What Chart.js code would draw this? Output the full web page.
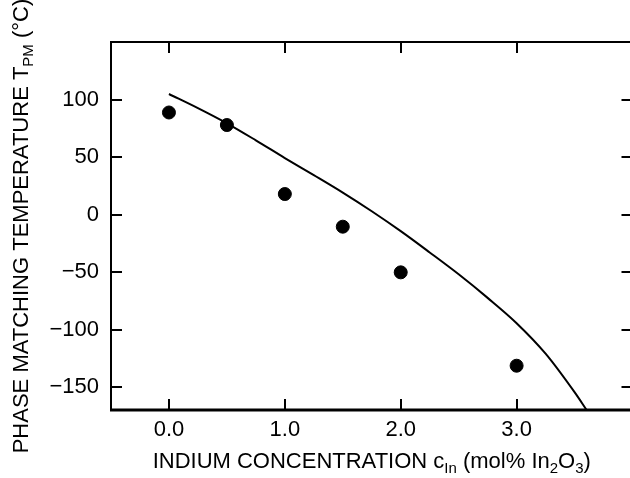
<!DOCTYPE html>
<html>
<head>
<meta charset="utf-8">
<script src="https://cdn.jsdelivr.net/npm/chart.js@4.4.1/dist/chart.umd.min.js"></script>
<style>
html, body { margin: 0; padding: 0; background: #fff; overflow: hidden; }
#wrap { width: 640px; height: 478px; }
</style>
</head>
<body>
<div id="wrap"><canvas id="tpmChart" width="640" height="478"></canvas></div>
<script>
// measured phase matching temperatures (dots)
const measuredConc = [0.0, 0.5, 1.0, 1.5, 2.0, 3.0];
const measuredTemp = [88.7, 77.8, 17.8, -10.6, -50.3, -131.5];

// calculated curve
const curveConc = [0.0, 0.25, 0.5, 0.75, 1.0, 1.25, 1.5, 1.75, 2.0, 2.25, 2.5, 2.75, 3.0, 3.25, 3.5, 3.604];
const curveTemp = [104.8, 92.5, 79.3, 64.5, 49.1, 34.2, 19.0, 2.8, -14.5, -33, -52, -72.5, -94.5, -121, -154.5, -170];

const xTicks = [0, 1, 2, 3];
const yTicks = [-150, -100, -50, 0, 50, 100];

const FONT = "'Liberation Sans', Arial, Helvetica, sans-serif";

// draws a run of text pieces, some of them subscripts
function drawRich(ctx, parts, x, y) {
    const widths = parts.map(p => {
        ctx.font = (p.sub ? 15 : 22) + 'px ' + FONT;
        return ctx.measureText(p.t).width;
    });
    const total = widths.reduce((a, b) => a + b, 0);
    let cx = x - total / 2;
    parts.forEach((p, i) => {
        ctx.font = (p.sub ? 15 : 22) + 'px ' + FONT;
        ctx.fillText(p.t, cx, y + (p.sub ? 5 : 0));
        cx += widths[i];
    });
}

const frameAndTitles = {
    id: 'frameAndTitles',
    afterDraw(chart) {
        const ctx = chart.ctx;
        const a = chart.chartArea;
        const xs = chart.scales.x;
        const ys = chart.scales.y;
        const len = 11;

        ctx.save();
        ctx.strokeStyle = '#000';
        ctx.lineWidth = 2;
        ctx.strokeRect(a.left, a.top, a.right - a.left, a.bottom - a.top);
        ctx.lineWidth = 3;
        ctx.beginPath();
        ctx.moveTo(a.left - 1, a.bottom);
        ctx.lineTo(a.right + 1, a.bottom);
        ctx.stroke();

        // inward ticks on all four sides
        ctx.lineWidth = 2;
        ctx.beginPath();
        xTicks.forEach(v => {
            const px = Math.round(xs.getPixelForValue(v));
            ctx.moveTo(px, a.bottom);
            ctx.lineTo(px, a.bottom - len);
            ctx.moveTo(px, a.top);
            ctx.lineTo(px, a.top + len);
        });
        yTicks.forEach(v => {
            const py = Math.round(ys.getPixelForValue(v));
            ctx.moveTo(a.left, py);
            ctx.lineTo(a.left + len, py);
            ctx.moveTo(a.right, py);
            ctx.lineTo(a.right - len, py);
        });
        ctx.stroke();

        // axis titles with subscripts
        ctx.fillStyle = '#000';
        ctx.textBaseline = 'alphabetic';
        ctx.textAlign = 'left';
        drawRich(ctx, [
            { t: 'INDIUM CONCENTRATION c' },
            { t: 'In', sub: true },
            { t: ' (mol% In' },
            { t: '2', sub: true },
            { t: 'O' },
            { t: '3', sub: true },
            { t: ')' }
        ], (a.left + a.right) / 2, 467.5);

        ctx.translate(27.5, 226);
        ctx.rotate(-Math.PI / 2);
        drawRich(ctx, [
            { t: 'PHASE MATCHING TEMPERATURE T' },
            { t: 'PM', sub: true },
            { t: ' (°C)' }
        ], 0, 0);
        ctx.restore();
    }
};

const ctx = document.getElementById('tpmChart').getContext('2d');

const chart = new Chart(ctx, {
    type: 'scatter',
    data: {
        datasets: [{
            type: 'line',
            label: 'Calculated',
            data: curveConc.map((c, i) => ({ x: c, y: curveTemp[i] })),
            borderColor: '#000',
            borderWidth: 2,
            pointRadius: 0,
            fill: false,
            cubicInterpolationMode: 'monotone'
        }, {
            label: 'Measured',
            data: measuredConc.map((c, i) => ({ x: c, y: measuredTemp[i] })),
            backgroundColor: '#000',
            borderColor: '#000',
            pointRadius: 6.5,
            pointHoverRadius: 6.5
        }]
    },
    options: {
        responsive: false,
        animation: false,
        layout: {
            padding: { top: 42, right: 5.5, left: 0, bottom: 0 }
        },
        plugins: {
            legend: { display: false },
            tooltip: { enabled: false }
        },
        scales: {
            x: {
                type: 'linear',
                min: -0.5,
                max: 4.0,
                afterBuildTicks: s => { s.ticks = xTicks.map(v => ({ value: v })); },
                afterFit: s => { s.height = 68; },
                grid: { display: false, drawTicks: false },
                border: { display: false },
                ticks: {
                    padding: 7,
                    color: '#000',
                    font: { family: FONT, size: 22 },
                    callback: v => v.toFixed(1)
                }
            },
            y: {
                type: 'linear',
                min: -170,
                max: 150,
                afterBuildTicks: s => { s.ticks = yTicks.map(v => ({ value: v })); },
                afterFit: s => { s.width = 111; },
                grid: { display: false, drawTicks: false },
                border: { display: false },
                ticks: {
                    padding: 12,
                    color: '#000',
                    font: { family: FONT, size: 22 },
                    callback: v => v.toString().replace('-', '\u2212')
                }
            }
        }
    },
    plugins: [frameAndTitles]
});
</script>
</body>
</html>
